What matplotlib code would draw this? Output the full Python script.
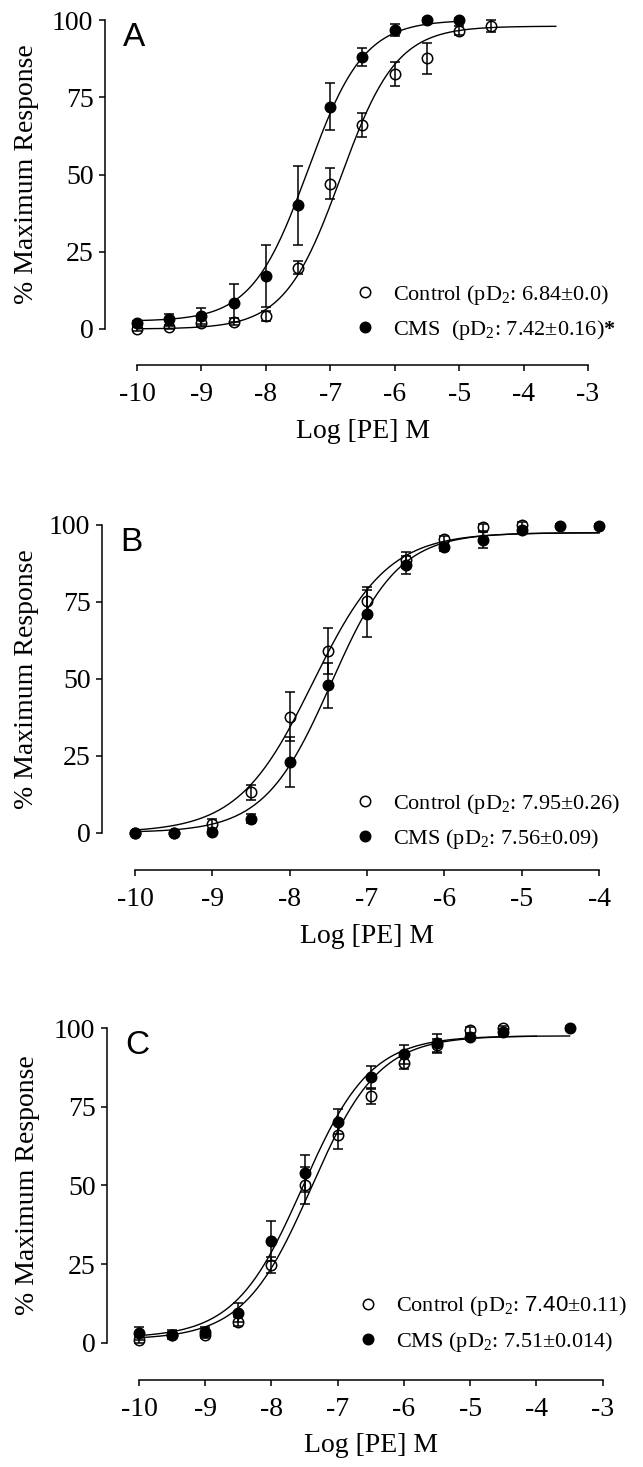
import numpy as np
import matplotlib
matplotlib.use("Agg")
import matplotlib.pyplot as plt

plt.rcParams['font.family'] = ['Liberation Serif', 'DejaVu Serif']
plt.rcParams['mathtext.fontset'] = 'custom'
plt.rcParams['mathtext.rm'] = 'Liberation Serif'
plt.rcParams['mathtext.it'] = 'Liberation Serif:italic'
plt.rcParams['mathtext.bf'] = 'Liberation Serif:bold'
plt.rcParams['mathtext.sf'] = 'Liberation Sans'
plt.rcParams['axes.unicode_minus'] = False

# ---------------- data ----------------
# Panel A
a_ctrl_x = [-10, -9.5, -9, -8.5, -8, -7.5, -7, -6.5, -6, -5.5, -5, -4.5]
a_ctrl_y = [0, 0.5, 2, 2.4, 4.2, 19.9, 47, 66, 82.5, 87.6, 96.5, 98]
a_ctrl_e = [0.5, 0.5, 1, 1, 1.5, 2, 5, 4, 4, 5, 1.5, 2]
a_cms_x = [-10, -9.5, -9, -8.5, -8, -7.5, -7, -6.5, -6, -5.5, -5]
a_cms_y = [1.8, 3.1, 4.2, 8.5, 17.2, 40, 72, 88, 96.8, 100, 100]
a_cms_e = [0.8, 1.7, 2.6, 6.2, 10, 12.7, 7.6, 3, 2, 0.5, 0.5]
# Panel B
b_ctrl_x = [-10, -9.5, -9, -8.5, -8, -7.5, -7, -6.5, -6, -5.5, -5]
b_ctrl_y = [0, 0, 2.8, 13.1, 37.6, 59, 75.2, 88.6, 95.3, 99.2, 100]
b_ctrl_e = [0.5, 0.5, 1.5, 2.5, 8, 7.5, 4.8, 2.5, 1, 1, 1]
b_cms_x = [-10, -9.5, -9, -8.5, -8, -7.5, -7, -6.5, -6, -5.5, -5, -4.5, -4]
b_cms_y = [0, 0, 0.3, 4.5, 22.9, 47.9, 71.2, 87, 92.7, 95.1, 98.4, 99.7, 99.7]
b_cms_e = [0.5, 0.5, 0.5, 1.5, 8, 7.3, 7.6, 3, 1, 2.5, 1, 0.5, 0.5]
# Panel C
c_ctrl_x = [-10, -9.5, -9, -8.5, -8, -7.5, -7, -6.5, -6, -5.5, -5, -4.5]
c_ctrl_y = [0.9, 2.4, 2.4, 6.7, 24.7, 50, 65.9, 78.3, 88.9, 94.5, 99.3, 100]
c_ctrl_e = [1, 1, 1, 1.5, 2.5, 5.8, 4.2, 2.3, 2, 2, 1, 0.5]
c_cms_x = [-10, -9.5, -9, -8.5, -8, -7.5, -7, -6.5, -6, -5.5, -5, -4.5, -3.5]
c_cms_y = [3, 2.6, 3.5, 9.5, 32.3, 53.8, 70.2, 84.4, 91.6, 95.2, 97.2, 98.7, 100]
c_cms_e = [2, 1.5, 1.5, 3, 6.4, 5.8, 4, 3.4, 3.1, 3, 1, 1, 0.5]

# fitted sigmoid parameters: bottom, top, logEC50, hill, x_start, x_end
a_ctrl_fit = [0, 98, -6.84, 1.0, -10, -3.5]
a_cms_fit = [2.5, 100, -7.35, 1.0, -10, -5]
b_ctrl_fit = [0, 97.5, -7.7, 0.9, -10, -4]
b_cms_fit = [0, 97.5, -7.46, 1.0, -10, -4]
c_ctrl_fit = [1, 97.5, -7.40, 0.85, -10, -4]
c_cms_fit = [1.5, 97.5, -7.53, 0.85, -10, -3.5]

a_labels = ['Control (pD$_2$: 6.84±0.0)', 'CMS  (pD$_2$: 7.42±0.16)$\\mathbf{*}$']
b_labels = ['Control (pD$_2$: 7.95±0.26)', 'CMS (pD$_2$: 7.56±0.09)']
c_labels = ['Control (pD$_2$: $\\mathsf{7.40}$±0.11)', 'CMS (pD$_2$: 7.51±0.014)']

y_ticks = [0, 25, 50, 75, 100]
a_xticks = [-10, -9, -8, -7, -6, -5, -4, -3]
b_xticks = [-10, -9, -8, -7, -6, -5, -4]
c_xticks = [-10, -9, -8, -7, -6, -5, -4, -3]
panel_letters = ['A', 'B', 'C']
xlabel = 'Log [PE] M'
ylabel = '% Maximum Response'

# ---------------- layout (pixels) ----------------
W, H = 643, 1467
layouts = [
    dict(x10=137, xe=588, left=105, right=615, y0=329, y100=20, bot=365, top=8, lx=354, ly=312.5),
    dict(x10=135, xe=599, left=102, right=620, y0=832.5, y100=525, bot=870, top=514, lx=354, ly=821.5),
    dict(x10=139, xe=602.7, left=107, right=620, y0=1342.7, y100=1028, bot=1380, top=1015, lx=357, ly=1324),
]

fig = plt.figure(figsize=(W / 100, H / 100), dpi=100)

def hill(x, p):
    b, t, ec, h = p[:4]
    return b + (t - b) / (1 + 10 ** ((ec - x) * h))

panels = [
    (a_ctrl_x, a_ctrl_y, a_ctrl_e, a_cms_x, a_cms_y, a_cms_e, a_ctrl_fit, a_cms_fit, a_labels, a_xticks),
    (b_ctrl_x, b_ctrl_y, b_ctrl_e, b_cms_x, b_cms_y, b_cms_e, b_ctrl_fit, b_cms_fit, b_labels, b_xticks),
    (c_ctrl_x, c_ctrl_y, c_ctrl_e, c_cms_x, c_cms_y, c_cms_e, c_ctrl_fit, c_cms_fit, c_labels, c_xticks),
]

for i, (pan, L) in enumerate(zip(panels, layouts)):
    cx, cy, ce, mx, my, me, cfit, mfit, labels, xt = pan
    xend = xt[-1]
    ppu = (L['xe'] - L['x10']) / (xend - xt[0])
    xmin = xt[0] - (L['x10'] - L['left']) / ppu
    xmax = xend + (L['right'] - L['xe']) / ppu
    ppp = (L['y0'] - L['y100']) / 100.0
    ymin = -(L['bot'] - L['y0']) / ppp
    ymax = 100 + (L['y100'] - L['top']) / ppp
    ax = fig.add_axes([L['left'] / W, 1 - L['bot'] / H,
                       (L['right'] - L['left']) / W, (L['bot'] - L['top']) / H])
    ax.set_xlim(xmin, xmax)
    ax.set_ylim(ymin, ymax)
    for s in ['top', 'right']:
        ax.spines[s].set_visible(False)
    ax.spines['left'].set_bounds(0, 100)
    ax.spines['bottom'].set_bounds(xt[0], xend)
    for s in ['left', 'bottom']:
        ax.spines[s].set_linewidth(1.1)
    ax.set_xticks(xt)
    ax.set_xticklabels([str(v) for v in xt])
    ax.set_yticks(y_ticks)
    ax.set_yticklabels([str(v) for v in y_ticks])
    ax.tick_params(direction='out', length=4.3, width=1.1, labelsize=20, pad=4)
    ax.tick_params(axis='x', pad=8)

    # fitted curves
    for fit in (cfit, mfit):
        xs = np.linspace(fit[4], fit[5], 300)
        ax.plot(xs, hill(xs, fit), color='black', lw=1.0, zorder=2, clip_on=False)

    eb1 = ax.errorbar(cx, cy, yerr=ce, fmt='o', ms=7.5, mfc='none', mec='black', mew=1.1,
                      ecolor='black', elinewidth=1.1, capsize=3.6, capthick=1.1, zorder=3,
                      clip_on=False)
    eb2 = ax.errorbar(mx, my, yerr=me, fmt='o', ms=7.5, mfc='black', mec='black', mew=1.1,
                      ecolor='black', elinewidth=1.1, capsize=3.6, capthick=1.1, zorder=4,
                      clip_on=False)
    for eb in (eb1, eb2):
        for art in eb[1] + eb[2]:
            art.set_clip_on(False)

    ax.legend([eb1[0], eb2[0]], labels, loc='center left',
              bbox_to_anchor=(L['lx'] / W, 1 - L['ly'] / H), bbox_transform=fig.transFigure,
              frameon=False, fontsize=16, handlelength=1.0, handletextpad=0.75,
              borderpad=0, borderaxespad=0, labelspacing=0.5, numpoints=1)

    ax.set_xlabel(xlabel, fontsize=20)
    ax.set_ylabel(ylabel, fontsize=20)
    xl_center = (xt[0] + xend) / 2.0
    ax.xaxis.set_label_coords((xl_center - xmin) / (xmax - xmin),
                              -66.0 / (L['bot'] - L['top']))
    ax.yaxis.set_label_coords(-(L['left'] - 27) / (L['right'] - L['left']),
                              (50 - ymin) / (ymax - ymin))
    ax.xaxis.label.set_va('center')
    ax.yaxis.label.set_va('center')

    fig.text((L['left'] + 18) / W, 1 - (L['y100'] + 2) / H, panel_letters[i],
             fontsize=24, family='Liberation Sans', ha='left', va='top')

fig.savefig('out.png', dpi=100)
